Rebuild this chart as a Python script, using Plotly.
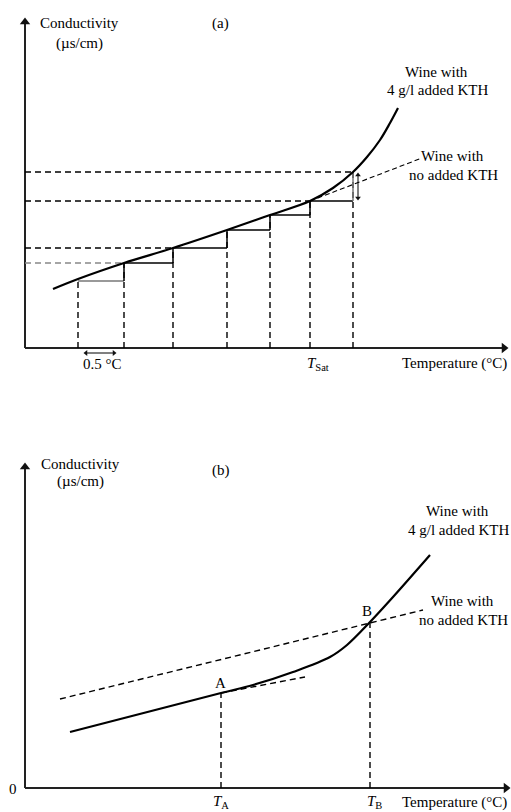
import plotly.graph_objects as go

# ---------------- Panel (a) data (arbitrary units) ----------------
curve_a_T = [2.8, 5.3, 9.9, 14.8, 20.2, 24.5, 28.5, 30.8, 32.8, 34.2, 35.5, 36.5, 37.3]
curve_a_C = [5.9, 6.9, 8.5, 10.0, 11.8, 13.3, 14.7, 16.0, 17.6, 19.1, 20.8, 22.5, 24.0]
step_T = [5.3, 9.9, 14.8, 20.2, 24.5, 28.5, 32.8]
step_C = [6.7, 8.5, 10.0, 11.8, 13.3, 14.7, 17.6]
ref_idx = [1, 2, 5, 6]           # horizontal dashed reference levels
noKTH_a_T = [28.5, 39.7]
noKTH_a_C = [14.7, 19.0]
delta_T = 33.3                   # double arrow of conductivity jump
interval_T = [5.8, 9.2]          # 0.5 °C interval
interval_C = -0.5

# ---------------- Panel (b) data ----------------
curve_b_T = [4.5, 19.6, 22.8, 26.8, 30.5, 32.2, 34.5, 36.8, 40.5]
curve_b_C = [5.6, 9.5, 10.3, 11.6, 13.1, 14.3, 16.6, 19.1, 23.3]
noKTH_b_T = [3.5, 39.8]
noKTH_b_C = [8.9, 17.8]
tangentA_T = [19.6, 28.0]
tangentA_C = [9.5, 11.1]
TA, CA = 19.6, 9.5
TB, CB = 34.5, 16.6

# axis extents (arrow tips)
axis_a_x, axis_a_y = 48.3, 33.0
axis_b_x, axis_b_y = 48.5, 32.5

W, H = 511, 812
FONT = "Liberation Serif"
DASH = "6px,4px"

fig = go.Figure()

def line(xs, ys, ax, width=1.4, dash=None, color="black", shape="linear"):
    fig.add_trace(go.Scatter(
        x=xs, y=ys, mode="lines", xaxis=ax[0], yaxis=ax[1], hoverinfo="skip",
        line=dict(color=color, width=width, dash=dash, shape=shape), showlegend=False))

def head(x, y, symbol, ax, size=8, color="#111"):
    fig.add_trace(go.Scatter(
        x=[x], y=[y], mode="markers", xaxis=ax[0], yaxis=ax[1], hoverinfo="skip",
        marker=dict(symbol=symbol, size=size, color=color, line=dict(width=0)),
        showlegend=False))

A = ("x", "y")
B = ("x2", "y2")

# ---- axes with arrowheads ----
for ax, ex, ey in ((A, axis_a_x, axis_a_y), (B, axis_b_x, axis_b_y)):
    line([0, ex - 0.4], [0, 0], ax, width=2, color="#222")
    line([0, 0], [0, ey - 0.4], ax, width=2, color="#222")
    head(ex - 0.4, 0, "triangle-right", ax, size=9)
    head(0, ey - 0.4, "triangle-up", ax, size=9)

# ---- Panel (a) ----
for t, c in zip(step_T, step_C):
    line([t, t], [0, c], A, dash=DASH)
for i in range(len(step_T) - 1):
    col = "#777" if i == 0 else "black"
    line([step_T[i], step_T[i + 1]], [step_C[i], step_C[i]], A, color=col, width=1.5)
    line([step_T[i + 1], step_T[i + 1]], [step_C[i], step_C[i + 1]], A, width=1.5,
         color="#777" if i == len(step_T) - 2 else "black")
for k in ref_idx:
    col = "#888" if k == 1 else "black"
    line([0, step_T[k]], [step_C[k], step_C[k]], A, dash=DASH, color=col, width=1.5)
line(noKTH_a_T, noKTH_a_C, A, dash="5px,3px", width=1.1)
line(curve_a_T, curve_a_C, A, width=2.2, shape="spline")

# double arrow: conductivity jump
line([delta_T, delta_T], [step_C[5] + 0.3, step_C[6] - 0.3], A, width=1.0)
head(delta_T, step_C[6] - 0.3, "triangle-up", A, size=5)
head(delta_T, step_C[5] + 0.3, "triangle-down", A, size=5)
# double arrow: 0.5 °C
line([interval_T[0] + 0.3, interval_T[1] - 0.3], [interval_C, interval_C], A, width=1.0)
head(interval_T[0] + 0.3, interval_C, "triangle-left", A, size=5)
head(interval_T[1] - 0.3, interval_C, "triangle-right", A, size=5)

# ---- Panel (b) ----
line([TA, TA], [0, CA], B, dash=DASH)
line([TB, TB], [0, CB], B, dash=DASH)
line(noKTH_b_T, noKTH_b_C, B, dash=DASH, width=1.4)
line(tangentA_T, tangentA_C, B, dash=DASH, width=1.4)
line(curve_b_T, curve_b_C, B, width=2.2, shape="spline")

ann = []
def txt(px, py, s, size=15, anchor="center"):
    ann.append(dict(x=px / W, y=1 - py / H, xref="paper", yref="paper", text=s,
                    showarrow=False, xanchor=anchor, yanchor="middle",
                    font=dict(family=FONT, size=size, color="black")))

# panel (a) labels
txt(79, 23, "Conductivity")
txt(79, 43, "(µs/cm)")
txt(220, 23, "(a)")
txt(436, 72, "Wine with")
txt(437, 90, "4 g/l added KTH")
txt(452, 156, "Wine with")
txt(453, 175, "no added KTH")
txt(102, 364, "0.5 °C")
txt(318, 364, "<i>T</i><sub>Sat</sub>")
txt(454, 363, "Temperature (°C)")

# panel (b) labels
txt(13, 789, "0")
txt(80, 464, "Conductivity")
txt(80, 481, "(µs/cm)")
txt(221, 470, "(b)")
txt(220, 683, "A")
txt(367, 611, "B")
txt(221, 802, "<i>T</i><sub>A</sub>")
txt(374, 802, "<i>T</i><sub>B</sub>")
txt(454, 802, "Temperature (°C)")
txt(457, 511, "Wine with")
txt(458, 530, "4 g/l added KTH")
txt(462, 601, "Wine with")
txt(463, 620, "no added KTH")

hidden = dict(visible=False, showgrid=False, zeroline=False, fixedrange=True)
fig.update_layout(
    width=W, height=H, autosize=False,
    margin=dict(l=0, r=0, t=0, b=0),
    paper_bgcolor="white", plot_bgcolor="white",
    showlegend=False,
    xaxis=dict(domain=[0, 1], range=[-2.5, 48.6], anchor="y", **hidden),
    yaxis=dict(domain=[1 - 400 / H, 1], range=[-5.2, 34.8], anchor="x", **hidden),
    xaxis2=dict(domain=[0, 1], range=[-2.5, 48.6], anchor="y2", **hidden),
    yaxis2=dict(domain=[0, 1 - 400 / H], range=[-2.4, 38.8], anchor="x2", **hidden),
    annotations=ann,
)

fig.write_html("out.html", config={"displayModeBar": False},
               post_script="document.body.style.margin='0px';document.body.style.overflow='hidden';")
